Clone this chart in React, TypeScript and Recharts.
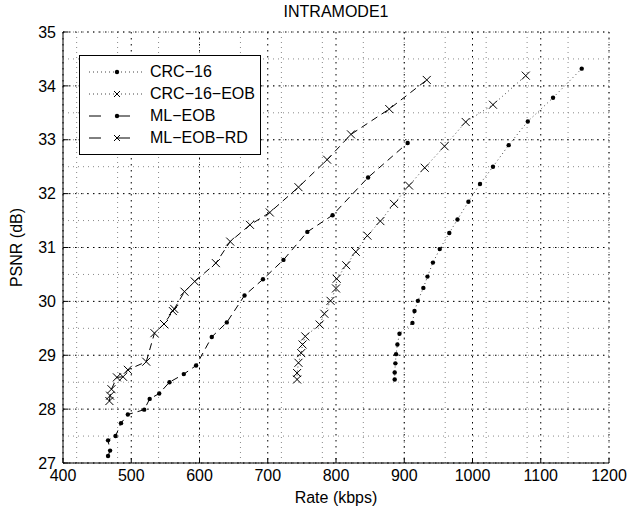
import { CartesianGrid, Label, Legend, Line, LineChart, XAxis, YAxis } from "recharts"

// tick values
const rateTicks = [400, 500, 600, 700, 800, 900, 1000, 1100, 1200]
const psnrTicks = [27, 28, 29, 30, 31, 32, 33, 34, 35]
const rateMinor = Array.from({ length: 41 }, (_, i) => 400 + i * 20)
const psnrMinor = Array.from({ length: 17 }, (_, i) => 27 + i * 0.5)

// CRC-16
const crcRate = [886, 886, 887, 888, 890, 893, 912, 915, 920, 928, 934, 942, 952, 966, 978, 994, 1011, 1030, 1053, 1081, 1118, 1160]
const crcPsnr = [28.55, 28.68, 28.85, 29.02, 29.2, 29.4, 29.6, 29.82, 30.01, 30.25, 30.46, 30.72, 30.97, 31.27, 31.52, 31.85, 32.18, 32.5, 32.9, 33.34, 33.78, 34.32]

// CRC-16-EOB
const crcEobRate = [743, 743, 745, 749, 751, 755, 776, 783, 792, 800, 801, 815, 829, 846, 865, 885, 907, 930, 959, 990, 1030, 1078]
const crcEobPsnr = [28.55, 28.67, 28.86, 29.04, 29.2, 29.35, 29.57, 29.77, 30.01, 30.24, 30.42, 30.67, 30.92, 31.22, 31.49, 31.81, 32.15, 32.48, 32.88, 33.33, 33.65, 34.19]

// ML-EOB
const mlEobRate = [466, 469, 466, 477, 485, 495, 519, 527, 541, 556, 577, 595, 618, 640, 666, 693, 723, 758, 795, 847, 905]
const mlEobPsnr = [27.13, 27.23, 27.42, 27.5, 27.74, 27.9, 27.99, 28.19, 28.29, 28.5, 28.65, 28.81, 29.34, 29.61, 30.11, 30.41, 30.77, 31.29, 31.6, 32.3, 32.94]

// ML-EOB-RD
const mlRdRate = [468, 469, 471, 479, 488, 495, 522, 534, 548, 561, 563, 578, 593, 624, 645, 674, 703, 745, 787, 822, 878, 933]
const mlRdPsnr = [28.15, 28.25, 28.37, 28.59, 28.6, 28.73, 28.88, 29.41, 29.58, 29.82, 29.86, 30.18, 30.37, 30.71, 31.11, 31.42, 31.65, 32.12, 32.63, 33.1, 33.57, 34.11]

const toPoints = (rates: number[], psnrs: number[]) => rates.map((rate, i) => ({ rate, psnr: psnrs[i] }))

const font = "'Liberation Sans', Arial, Helvetica, sans-serif"

const series = [
  { name: "CRC\u221216", data: toPoints(crcRate, crcPsnr), dash: "1 3", stroke: "#444", marker: "dot" },
  { name: "CRC\u221216\u2212EOB", data: toPoints(crcEobRate, crcEobPsnr), dash: "1 3", stroke: "#444", marker: "cross" },
  { name: "ML\u2212EOB", data: toPoints(mlEobRate, mlEobPsnr), dash: "7 5", stroke: "#000", marker: "dot" },
  { name: "ML\u2212EOB\u2212RD", data: toPoints(mlRdRate, mlRdPsnr), dash: "7 5", stroke: "#000", marker: "cross" },
]

function Marker({ cx, cy, kind, size = 4 }: { cx: number; cy: number; kind: string; size?: number }) {
  if (kind === "dot") return <circle cx={cx} cy={cy} r={2.2} fill="#000" stroke="none" />
  const s = size
  return (
    <path
      d={`M${cx - s},${cy - s}L${cx + s},${cy + s}M${cx - s},${cy + s}L${cx + s},${cy - s}`}
      stroke="#000"
      strokeWidth={1}
      fill="none"
    />
  )
}

function LegendBox() {
  return (
    <div
      style={{
        border: "1px solid #000",
        background: "#fff",
        width: 180,
        padding: "5px 0",
        fontSize: 16,
        fontFamily: font,
        color: "#000",
      }}
    >
      {series.map((s) => (
        <div key={s.name} style={{ display: "flex", alignItems: "center", height: 22 }}>
          <svg width={70} height={22} style={{ display: "block" }}>
            <line x1={9} x2={63} y1={11} y2={11} stroke={s.stroke} strokeDasharray={s.dash === "7 5" ? "12 17" : "1 3"} />
            <Marker cx={37} cy={11} kind={s.marker} size={3} />
          </svg>
          <span style={{ whiteSpace: "nowrap" }}>{s.name}</span>
        </div>
      ))}
    </div>
  )
}

export default function App() {
  return (
    <div style={{ position: "relative", width: 639, height: 509, background: "#fff", fontFamily: font }}>
      <style>{"body{margin:0}"}</style>
      <div
        style={{
          position: "absolute",
          top: 2,
          left: 236,
          width: 200,
          textAlign: "center",
          fontSize: 16,
          lineHeight: "20px",
          color: "#000",
        }}
      >
        INTRAMODE1
      </div>
      <LineChart width={639} height={509} margin={{ top: 32, right: 30, bottom: 0, left: 0 }}>
        <CartesianGrid stroke="#888" strokeDasharray="1 4" horizontalValues={psnrMinor} verticalValues={rateMinor} />
        <CartesianGrid stroke="#000" strokeDasharray="1.5 4.5" horizontalValues={psnrTicks} verticalValues={rateTicks} />
        <XAxis
          dataKey="rate"
          type="number"
          domain={[400, 1200]}
          ticks={rateTicks}
          allowDataOverflow
          height={46}
          tickSize={-5}
          tickMargin={12}
          stroke="#000"
          tick={{ fill: "#000", fontSize: 16, fontFamily: font }}
        >
          <Label
            content={({ viewBox }: any) => (
              <text x={336} y={viewBox.y + 40} textAnchor="middle" fontSize={16} fontFamily={font} fill="#000">
                Rate (kbps)
              </text>
            )}
          />
        </XAxis>
        <XAxis
          xAxisId="top"
          orientation="top"
          type="number"
          domain={[400, 1200]}
          ticks={rateTicks}
          allowDataOverflow
          height={0}
          tickSize={-5}
          tick={false}
          stroke="#000"
        />
        <YAxis
          dataKey="psnr"
          type="number"
          domain={[27, 35]}
          ticks={psnrTicks}
          allowDataOverflow
          width={63}
          tickSize={-5}
          tickMargin={12}
          stroke="#000"
          tick={{ fill: "#000", fontSize: 16, fontFamily: font }}
        >
          <Label
            content={({ viewBox }: any) => {
              const x = 16
              const y = viewBox.y + viewBox.height / 2
              return (
                <text
                  x={x}
                  y={y}
                  transform={`rotate(-90, ${x}, ${y})`}
                  textAnchor="middle"
                  dominantBaseline="central"
                  fontSize={16}
                  fontFamily={font}
                  fill="#000"
                >
                  PSNR (dB)
                </text>
              )
            }}
          />
        </YAxis>
        <YAxis
          yAxisId="right"
          orientation="right"
          type="number"
          domain={[27, 35]}
          ticks={psnrTicks}
          allowDataOverflow
          width={0}
          tickSize={-5}
          tick={false}
          stroke="#000"
        />
        {series.map((s) => (
          <Line
            key={s.name}
            name={s.name}
            data={s.data}
            dataKey="psnr"
            type="linear"
            stroke={s.stroke}
            strokeWidth={1}
            strokeDasharray={s.dash}
            isAnimationActive={false}
            activeDot={false}
            dot={(p: any) => <Marker key={`${s.name}-${p.index}`} cx={p.cx} cy={p.cy} kind={s.marker} />}
          />
        ))}
        <Legend
          layout="horizontal"
          verticalAlign="middle"
          align="center"
          wrapperStyle={{ left: 79, top: 55, width: "auto" }}
          content={() => <LegendBox />}
        />
      </LineChart>
    </div>
  )
}
